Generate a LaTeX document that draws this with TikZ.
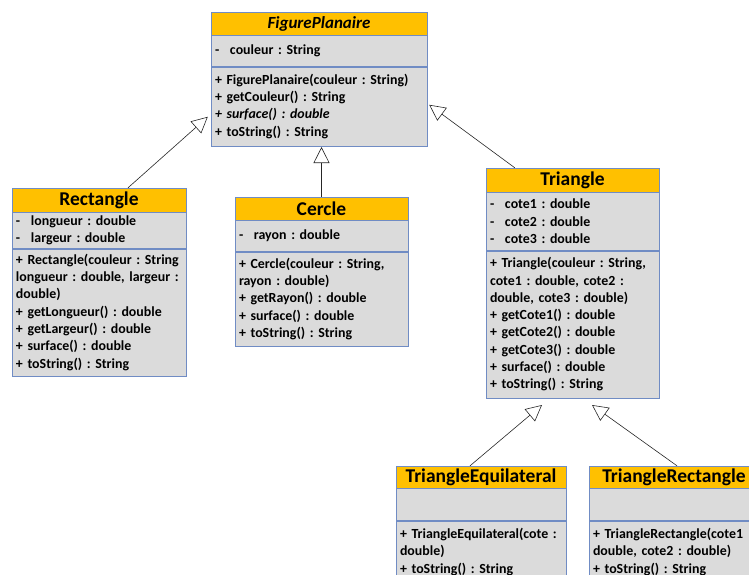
\documentclass[tikz,border=0pt]{standalone}
\usepackage{fontspec}
\setmainfont{Carlito}
\usepackage{tikz}
\usetikzlibrary{positioning,arrows.meta}
\usepackage{xcolor}
\frenchspacing
\definecolor{umlyellow}{RGB}{255,192,0}
\definecolor{umlgray}{RGB}{219,219,219}
\definecolor{umlblue}{RGB}{112,140,196}
\newcommand{\priv}[1]{\makebox[15pt][l]{-}#1}
\tikzset{%
    classhead/.style={%
        draw=umlblue, fill=umlyellow, inner sep=0pt,
        minimum width=#1, minimum height=23,
        font=\fontsize{19.5}{22}\selectfont\bfseries
    },
    classpart/.style={%
        draw=umlblue, fill=umlgray, inner xsep=4pt, inner ysep=0pt,
        text width=#1, align=left,
        font=\fontsize{13.9}{17.3}\selectfont\bfseries
    },
    inherit/.style={%
        draw=black!85, line width=0.6pt,
        -{Triangle[open,length=16pt,width=16pt]}
    }
}

\begin{document}
\begin{tikzpicture}[x=1pt,y=-1pt]
    \useasboundingbox (0,0) rectangle (749,574);
    \clip (0,0) rectangle (749,574);
    \node[classhead=216, font=\fontsize{17}{20}\selectfont\bfseries\itshape] (fp-head)
        at (319,23.5) {FigurePlanaire};
    \node[classpart=208, minimum height=31, below=0pt of fp-head] (fp-attr)
        {\priv{couleur : String}};
    \node[classpart=208, minimum height=79, below=0pt of fp-attr] (fp-meth)
        {+ FigurePlanaire(couleur : String)\\
         + getCouleur() : String\\
         \textit{+ surface() : double}\\
         + toString() : String};
    \node[classhead=174, minimum height=24] (rect-head) at (99,200) {Rectangle};
    \node[classpart=166, minimum height=36, below=0pt of rect-head] (rect-attr)
        {\priv{longueur : double}\\
         \priv{largeur : double}};
    \node[classpart=166, minimum height=127, below=0pt of rect-attr] (rect-meth)
        {+ Rectangle(couleur : String\\
         longueur : double, largeur :\\
         double)\\
         + getLongueur() : double\\
         + getLargeur() : double\\
         + surface() : double\\
         + toString() : String};
    \node[classhead=173] (cer-head) at (321.5,208.5) {Cercle};
    \node[classpart=165, minimum height=31, below=0pt of cer-head] (cer-attr)
        {\priv{rayon : double}};
    \node[classpart=165, minimum height=94, below=0pt of cer-attr] (cer-meth)
        {+ Cercle(couleur : String,\\
         rayon : double)\\
         + getRayon() : double\\
         + surface() : double\\
         + toString() : String};
    \node[classhead=173, minimum height=24] (tri-head) at (572.5,180) {Triangle};
    \node[classpart=165, minimum height=58, below=0pt of tri-head] (tri-attr)
        {\priv{cote1 : double}\\
         \priv{cote2 : double}\\
         \priv{cote3 : double}};
    \node[classpart=165, minimum height=147, below=0pt of tri-attr] (tri-meth)
        {+ Triangle(couleur : String,\\
         cote1 : double, cote2 :\\
         double, cote3 : double)\\
         + getCote1() : double\\
         + getCote2() : double\\
         + getCote3() : double\\
         + surface() : double\\
         + toString() : String};
    \node[classhead=170, minimum height=22] (treq-head) at (481,477) {TriangleEquilateral};
    \node[classpart=162, minimum height=32, below=0pt of treq-head] (treq-attr) {};
    \node[classpart=162, minimum height=62, below=0pt of treq-attr] (treq-meth)
        {+ TriangleEquilateral(cote :\\
         double)\\
         + toString() : String};
    \node[classhead=170, minimum height=22] (trect-head) at (674,477) {TriangleRectangle};
    \node[classpart=162, minimum height=32, below=0pt of trect-head] (trect-attr) {};
    \node[classpart=162, minimum height=62, below=0pt of trect-attr] (trect-meth)
        {+ TriangleRectangle(cote1\\
         double, cote2 : double)\\
         + toString() : String};
    \draw[inherit] ([xshift=29]rect-head.north) -- ([xshift=-3,yshift=-10.5]fp-meth.west);
    \draw[inherit, shorten >=1pt] (cer-head.north) -- (cer-head.north |- fp-meth.south);
    \draw[inherit] ([xshift=29]tri-head.north west) -- ([xshift=2,yshift=1.5]fp-meth.east);
    \draw[inherit] ([xshift=-11]treq-head.north) -- ([xshift=-30.5,yshift=-7]tri-meth.south);
    \draw[inherit] ([xshift=3]trect-head.north) -- ([xshift=19.5,yshift=-7]tri-meth.south);
\end{tikzpicture}
\end{document}
